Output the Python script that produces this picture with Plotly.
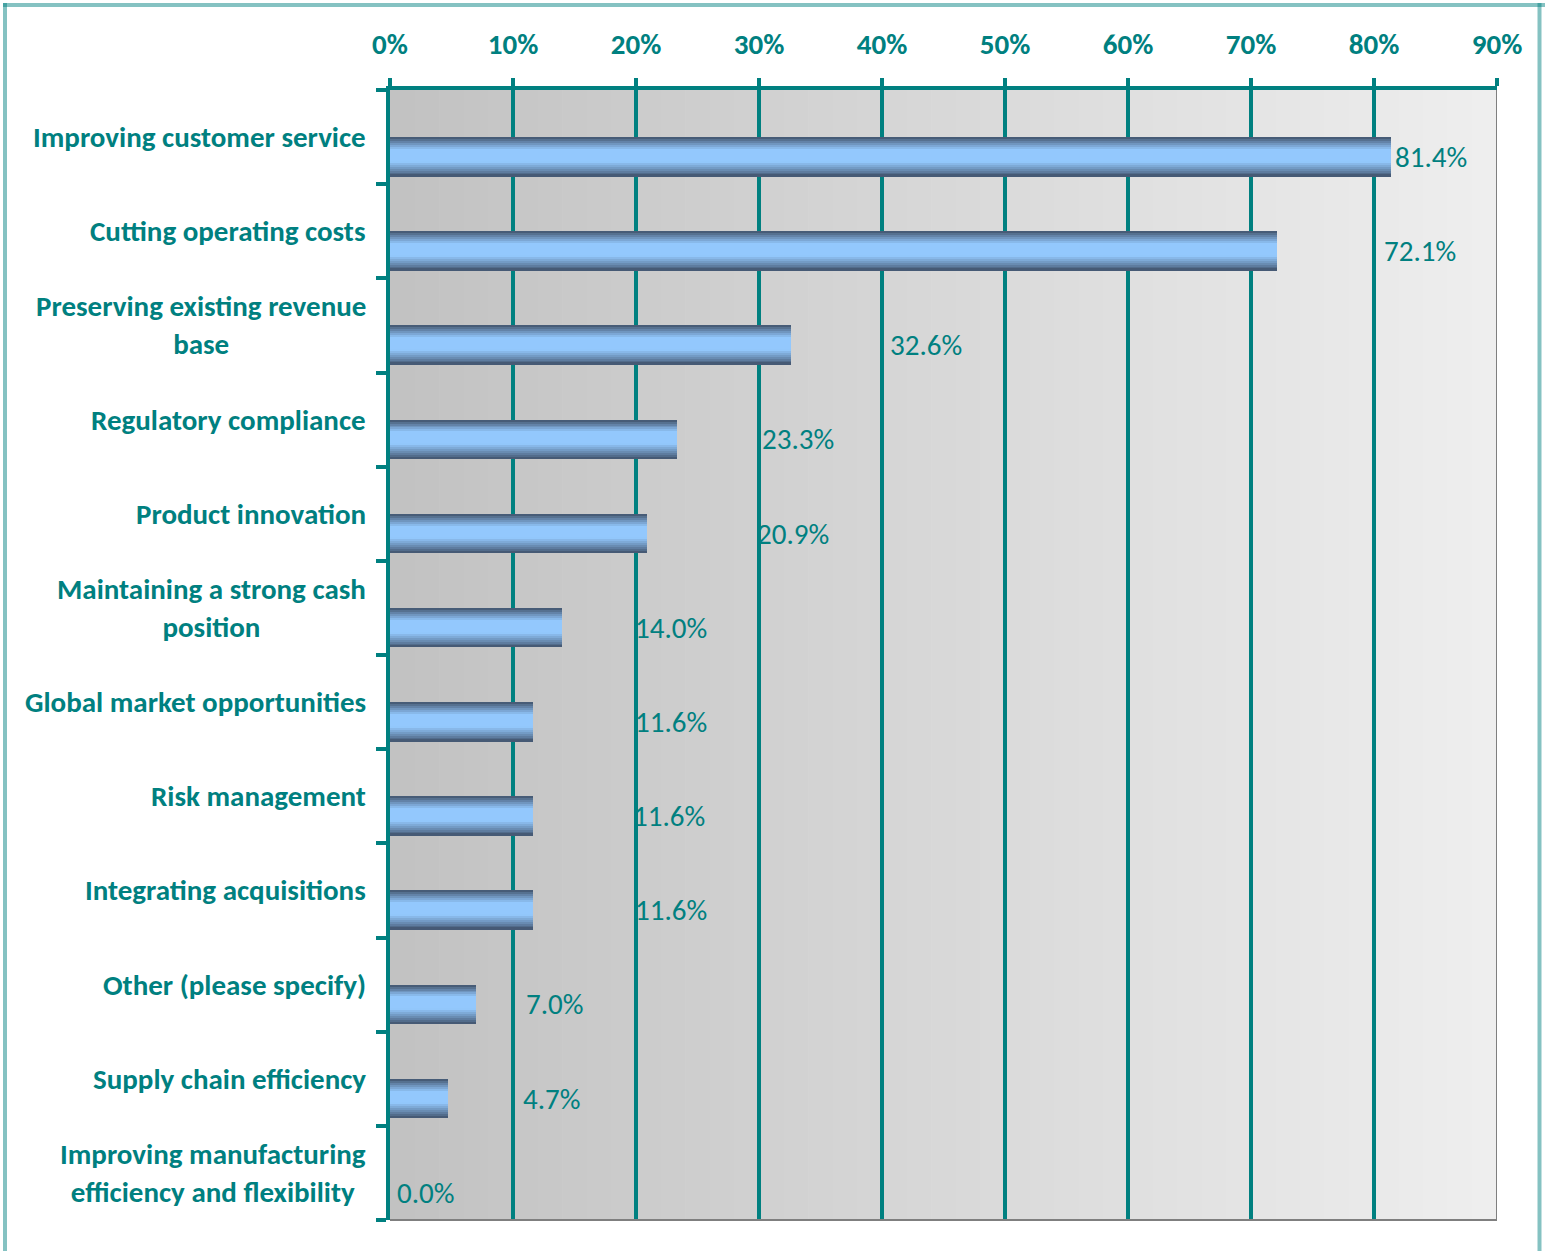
import plotly.graph_objects as go

# Survey responses: business drivers, share of respondents (%)
categories = [
    "Improving customer service",
    "Cutting operating costs",
    "Preserving existing revenue<br>base",
    "Regulatory compliance",
    "Product innovation",
    "Maintaining a strong cash<br>position",
    "Global market opportunities",
    "Risk management",
    "Integrating acquisitions",
    "Other (please specify)",
    "Supply chain efficiency",
    "Improving manufacturing<br>efficiency and flexibility",
]
values = [81.4, 72.1, 32.6, 23.3, 20.9, 14.0, 11.6, 11.6, 11.6, 7.0, 4.7, 0.0]
tick_values = [0, 10, 20, 30, 40, 50, 60, 70, 80, 90]
tick_labels = ["0%", "10%", "20%", "30%", "40%", "50%", "60%", "70%", "80%", "90%"]

# Where each value label starts along the axis (in %)
label_pos = [81.8, 80.9, 40.7, 30.3, 29.9, 20.0, 20.0, 19.8, 20.0, 11.1, 10.9, 0.65]

TEAL = "#008080"
FONT = "Calibri, Carlito, Lato, sans-serif"
FS = 29
W, H = 1551, 1251
ML, MR, MT, MB = 390, 54, 90, 31
PW, PH = W - ML - MR, H - MT - MB

idx = list(range(len(categories)))


def mix(c1, c2, t):
    return "rgb(%d,%d,%d)" % tuple(round(a + (b - a) * t) for a, b in zip(c1, c2))


DARK = (0x3f, 0x50, 0x68)
LIGHT = (0x93, 0xc8, 0xfd)

fig = go.Figure()

# Each bar is built from thin horizontal slices to give a cylinder-like shading;
# slices overlap so no seams show between them
BAR_W = 0.42
N = 20
slice_w = BAR_W / N
for k in range(N):
    t = (k + 0.5) / N
    if t < 0.32:
        f = t / 0.32
    elif t < 0.62:
        f = 1.0
    else:
        f = (1 - t) / 0.38
    f = f ** 0.9
    last = k == N - 1
    fig.add_trace(go.Bar(
        x=values, y=idx, orientation="h",
        offset=k * slice_w, width=slice_w * (1.0 if last else 2.0),
        marker=dict(color=mix(DARK, LIGHT, f), line=dict(width=0)),
        hoverinfo="skip", showlegend=False,
    ))

shapes = []
# horizontal grey gradient in the plot area
NB = 45
for b in range(NB):
    x0 = 90 * b / NB
    x1 = 90 * (b + 1) / NB
    g = (0xc2, 0xc2, 0xc2)
    h = (0xee, 0xee, 0xee)
    shapes.append(dict(type="rect", xref="x", yref="paper", x0=x0, x1=x1 + 0.05,
                       y0=0, y1=1, layer="below", line=dict(width=0),
                       fillcolor=mix(g, h, (b + 0.5) / NB)))
# vertical grid lines
for v in tick_values[1:-1]:
    shapes.append(dict(type="line", xref="x", yref="paper", x0=v, x1=v, y0=0, y1=1,
                       layer="below", line=dict(color=TEAL, width=4)))
# plot area frame on the right and bottom
shapes.append(dict(type="line", xref="x", yref="paper", x0=90, x1=90, y0=0, y1=1,
                   layer="above", line=dict(color="#7f7f7f", width=2)))
shapes.append(dict(type="line", xref="paper", yref="paper", x0=0, x1=1, y0=0, y1=0,
                   layer="above", line=dict(color="#7f7f7f", width=2)))


def px_x(p):
    return (p - ML) / PW


def px_y(p):
    return (MT + PH - p) / PH


# outer chart border
BORDER = "rgba(0,128,128,0.48)"
shapes.append(dict(type="line", xref="paper", yref="paper", x0=px_x(3), x1=px_x(1545),
                   y0=px_y(5), y1=px_y(5), line=dict(color=BORDER, width=4)))
shapes.append(dict(type="line", xref="paper", yref="paper", x0=px_x(5), x1=px_x(5),
                   y0=px_y(3), y1=px_y(1260), line=dict(color=BORDER, width=4)))
shapes.append(dict(type="line", xref="paper", yref="paper", x0=px_x(1539.5), x1=px_x(1539.5),
                   y0=px_y(3), y1=px_y(1260), line=dict(color=BORDER, width=4)))

annotations = []
for i, name in enumerate(categories):
    annotations.append(dict(
        x=0, xref="paper", xshift=-22, xanchor="right", y=i, yref="y",
        text=name, showarrow=False, align="center",
        font=dict(family=FONT, size=FS, color=TEAL, weight="bold"),
    ))
for i, (v, p) in enumerate(zip(values, label_pos)):
    annotations.append(dict(
        x=p, xref="x", xanchor="left", xshift=-3, y=i + BAR_W / 2, yref="y",
        text="%.1f%%" % v, showarrow=False,
        font=dict(family=FONT, size=FS, color=TEAL),
    ))

fig.update_layout(
    width=W, height=H,
    margin=dict(l=ML, r=MR, t=MT, b=MB, pad=0),
    paper_bgcolor="white", plot_bgcolor="rgba(0,0,0,0)",
    barmode="overlay", bargap=0,
    shapes=shapes, annotations=annotations,
    xaxis=dict(
        side="top", range=[0, 90], tickvals=tick_values, ticktext=tick_labels,
        showgrid=False, zeroline=False,
        showline=True, linecolor=TEAL, linewidth=4,
        ticks="outside", ticklen=8, tickwidth=4, tickcolor=TEAL,
        ticklabelstandoff=12,
        tickfont=dict(family=FONT, size=FS, color=TEAL, weight="bold"),
        fixedrange=True,
    ),
    yaxis=dict(
        type="linear", range=[len(categories) - 0.5, -0.5],
        tickvals=[i - 0.5 for i in range(len(categories) + 1)],
        showticklabels=False, showgrid=False, zeroline=False,
        showline=True, linecolor=TEAL, linewidth=4,
        ticks="outside", ticklen=10, tickwidth=4, tickcolor=TEAL,
        fixedrange=True,
    ),
)

fig.write_html("out.html")
